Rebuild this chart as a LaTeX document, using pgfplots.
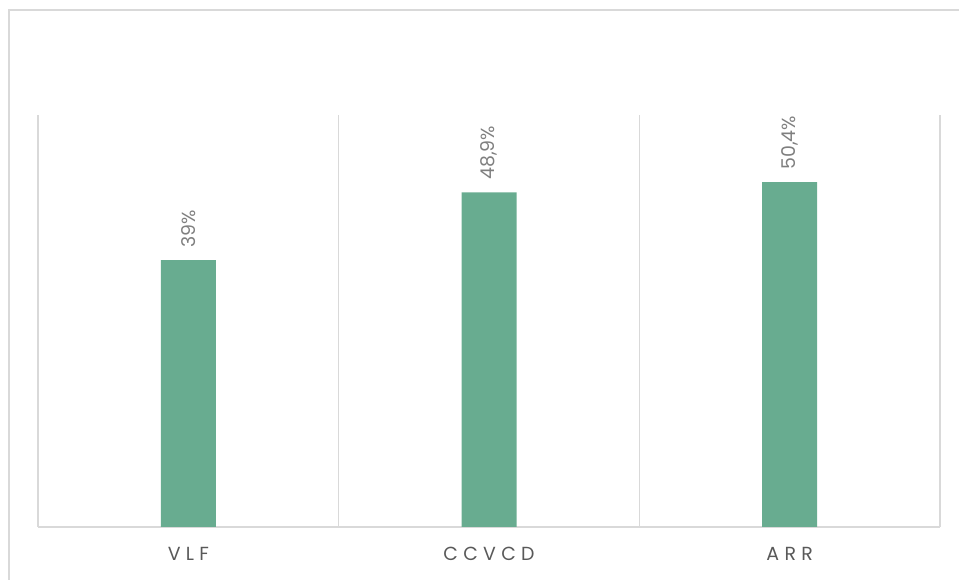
\documentclass[border=0pt]{standalone}
\usepackage{pgfplots}
\pgfplotsset{compat=1.18}
\usepackage{fontspec}
\setmainfont{Poppins}
\definecolor{barc}{HTML}{68AC90}
\definecolor{gridc}{HTML}{D9D9D9}
\definecolor{labc}{HTML}{595959}
\definecolor{valc}{HTML}{7F7F7F}
\begin{document}
\begin{tikzpicture}[x=1bp,y=1bp]
\useasboundingbox (0,0) rectangle (959,580);
\draw[gridc, line width=1.5bp] (9,0) -- (9,570) -- (959,570);
\begin{axis}[
  at={(38bp,53bp)}, anchor=south west,
  scale only axis,
  width=902bp, height=412bp,
  xmin=-0.5, xmax=2.5, ymin=0, ymax=60.2,
  axis x line=bottom, axis y line=none,
  axis line style={gridc, line width=1.2bp, -},
  xtick={0,1,2},
  xticklabels={VLF,CCVCD,ARR},
  major tick length=0pt,
  minor xtick={-0.5,0.5,1.5,2.5},
  minor tick length=0pt,
  xminorgrids,
  minor grid style={gridc, line width=1.2bp},
  xticklabel style={font=\fontsize{19}{22}\selectfont\addfontfeatures{LetterSpace=28}, text=labc, yshift=-17bp},
  /pgf/number format/assume math mode=true,
  ybar, bar width=55bp,
  nodes near coords={\pgfmathprintnumber[use comma, fixed, precision=1]{\pgfplotspointmeta}\%},
  every node near coord/.append style={rotate=90, anchor=west, font=\fontsize{19}{22}\selectfont, text=valc, xshift=9bp},
  clip=false,
]
\addplot[fill=barc, draw=none] coordinates {(0,39) (1,48.9) (2,50.4)};
\end{axis}
\end{tikzpicture}
\end{document}
